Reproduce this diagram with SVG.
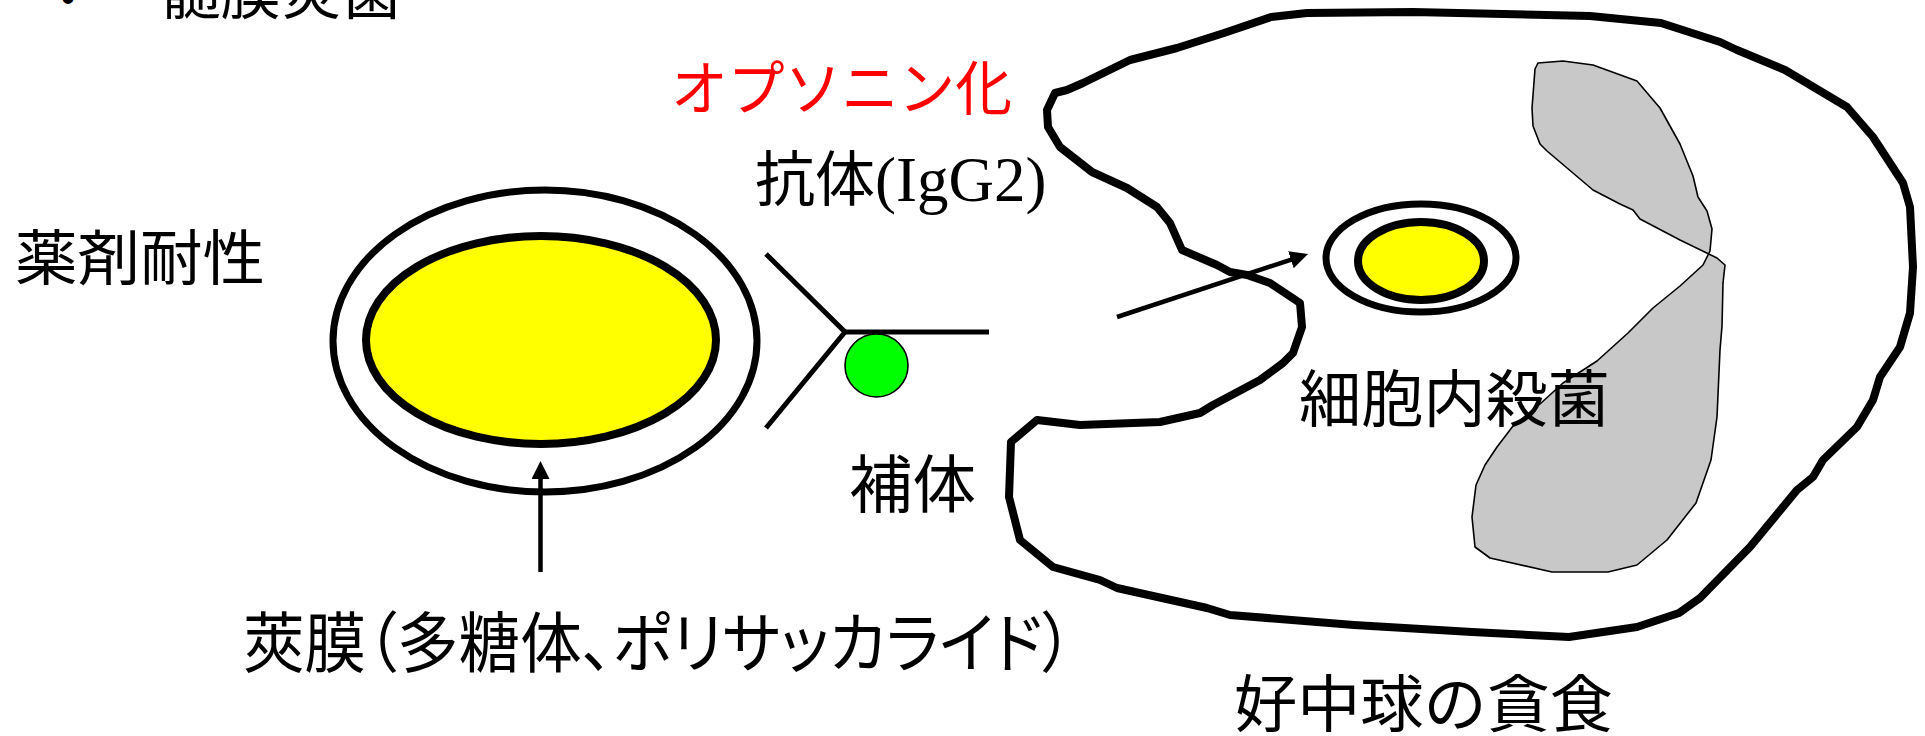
<svg xmlns="http://www.w3.org/2000/svg" width="1925" height="736" viewBox="0 0 1925 736">
  <style>
    .jp { font-family: "Noto Sans CJK JP", "Noto Sans", sans-serif; fill: #000; }
    .serif { font-family: "Liberation Serif", "Times New Roman", serif; }
    .edge { fill: none; stroke: #000; stroke-width: 7; }
    .core { fill: #ffff00; stroke: #000; stroke-width: 8; }
    .line { fill: none; stroke: #000; stroke-width: 5; }
    .arrow { fill: none; stroke: #000; stroke-width: 4.5; marker-end: url(#head); }
  </style>
  <defs>
    <marker id="head" viewBox="0 0 18 18" refX="6" refY="9" markerWidth="18" markerHeight="18" markerUnits="userSpaceOnUse" orient="auto">
      <path d="M0,0 L18,9 L0,18 Z" fill="#000"/>
    </marker>
  </defs>
  <rect width="1925" height="736" fill="#fff"/>

  <!-- heading line, clipped by the top edge -->
  <g id="heading">
    <text x="61" y="12" font-family="'Liberation Sans', sans-serif" font-size="40">•</text>
    <text class="jp" x="160" y="14" font-size="60" textLength="242" lengthAdjust="spacingAndGlyphs">髄膜炎菌</text>
  </g>

  <!-- encapsulated bacterium -->
  <g id="bacterium">
    <ellipse class="edge" cx="545" cy="341" rx="212" ry="151"/>
    <ellipse class="core" cx="541" cy="340" rx="175" ry="104"/>
  </g>

  <!-- antibody (Y shape) -->
  <g id="antibody">
    <polyline class="line" points="766,254 845,332 766,428"/>
    <line class="line" x1="845" y1="332" x2="989" y2="332"/>
  </g>

  <!-- complement -->
  <g id="complement">
    <circle cx="876.5" cy="365.5" r="31.5" fill="#00ff00" stroke="#000" stroke-width="1.6"/>
  </g>

  <!-- neutrophil with nucleus and engulfed bacterium -->
  <g id="neutrophil">
    <path fill="#fff" stroke="#000" stroke-width="8" stroke-linejoin="round"
      d="M1055,93 L1067,90 L1083,83 L1130,60 L1177,48 L1224,33 L1271,17 L1307,13 L1413,12 L1590,16 L1661,23 L1720,42 L1737,50 L1785,70 L1847,107 L1873,137 L1903,183 L1910,207 L1913,267 L1910,313 L1900,347 L1880,377 L1873,400 L1857,427 L1823,460 L1813,477 L1797,490 L1750,547 L1700,598 L1679,613 L1637,627 L1569,637 L1472,632 L1354,625 L1230,615 L1207,608 L1117,588 L1100,580 L1053,567 L1020,540 L1009,497 L1011,442 L1037,420 L1080,425 L1160,422 L1200,413 L1213,405 L1260,380 L1283,363 L1293,353 L1302,327 L1300,303 L1270,283 L1247,275 L1230,272 L1217,265 L1182,250 L1170,223 L1157,207 L1127,188 L1092,172 L1060,147 L1048,127 L1047,110 Z"/>
    <path id="nucleus" fill="#c8c8c8" stroke="#000" stroke-width="1.6" stroke-linejoin="round"
      d="M1538,63 L1563,61 L1593,65 L1637,81 L1660,108 L1680,144 L1693,176 L1698,197 L1707,211 L1712,229 L1710,251 L1703,265 L1680,286 L1653,308 L1628,333 L1597,361 L1563,383 L1540,404 L1513,426 L1497,447 L1485,465 L1476,485 L1472,517 L1475,547 L1490,558 L1552,572 L1608,572 L1637,565 L1667,540 L1696,503 L1711,460 L1717,417 L1720,350 L1722,326 L1723,283 L1725,265 L1717,258 L1680,240 L1640,219 L1633,210 L1620,204 L1593,190 L1547,151 L1540,144 L1533,126 L1532,108 L1535,69 Z"/>
    <g id="engulfed">
      <ellipse class="edge" cx="1421" cy="258" rx="95" ry="54"/>
      <ellipse class="core" cx="1421" cy="261" rx="63" ry="39"/>
    </g>
  </g>

  <!-- connectors -->
  <g id="connectors">
    <line class="arrow" x1="540.5" y1="572" x2="540.5" y2="473"/>
    <line class="arrow" x1="1117" y1="317" x2="1296.6" y2="257.8"/>
  </g>

  <!-- labels -->
  <g id="labels">
    <text class="jp" x="671" y="110" font-size="59" fill="#ff0000" style="fill:#ff0000" textLength="341" lengthAdjust="spacingAndGlyphs">オプソニン化</text>
    <text x="755" y="201" font-size="60"><tspan class="jp">抗体</tspan><tspan class="serif" font-size="63">(IgG2)</tspan></text>
    <text class="jp" x="15" y="280" font-size="60" textLength="250" lengthAdjust="spacingAndGlyphs">薬剤耐性</text>
    <text class="jp" x="849" y="507" font-size="63" textLength="127" lengthAdjust="spacingAndGlyphs">補体</text>
    <text class="jp" x="1299" y="422" font-size="62" textLength="311" lengthAdjust="spacingAndGlyphs">細胞内殺菌</text>
    <text class="jp" x="1234" y="727" font-size="62" textLength="379" lengthAdjust="spacingAndGlyphs">好中球の貪食</text>
    <text class="jp" x="243" y="667" font-size="66" style="font-feature-settings:'palt'" textLength="830" lengthAdjust="spacingAndGlyphs">莢膜（多糖体、ポリサッカライド）</text>
  </g>
</svg>
